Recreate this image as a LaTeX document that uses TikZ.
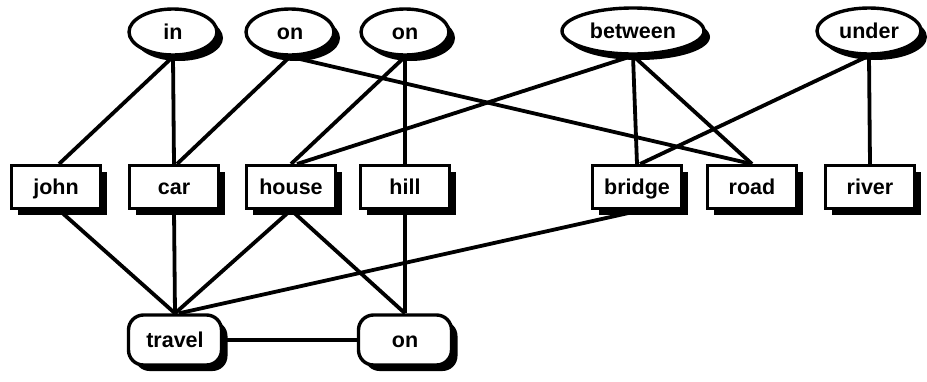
\documentclass[tikz,border=0pt]{standalone}
\usepackage{fontspec}
\setmainfont{Liberation Sans}
\usetikzlibrary{shapes.geometric,shadows,backgrounds}
\begin{document}
\begin{tikzpicture}[x=1pt,y=-1pt,
  shd/.style={drop shadow={shadow xshift=6pt,shadow yshift=-6pt,fill=black,opacity=1}},
  txt/.style={font=\bfseries\fontsize{21.5}{21.5}\selectfont,text height=15pt,text depth=0pt},
  rel/.style={ellipse,draw,line width=3.4pt,fill=white,shd,minimum height=46pt,inner sep=0pt,txt},
  con/.style={rectangle,draw,line width=3pt,fill=white,shd,minimum width=89pt,minimum height=43pt,inner sep=0pt,txt},
  act/.style={rectangle,rounded corners=15pt,draw,line width=3.4pt,fill=white,shd,minimum width=93pt,minimum height=50pt,inner sep=0pt,txt},
  edge/.style={line width=3.8pt}]
\useasboundingbox (0,0) rectangle (927,381);
\node[rel,minimum width=88pt] (in) at (173,32) {in};
\node[rel,minimum width=88pt] (on1) at (290,32) {on};
\node[rel,minimum width=88pt] (on2) at (405,32) {on};
\node[rel,minimum width=142pt] (betw) at (633,31) {between};
\node[rel,minimum width=104pt] (under) at (869,31) {under};
\node[con] (john) at (56,187) {john};
\node[con] (car) at (174,187) {car};
\node[con] (house) at (291,187) {house};
\node[con] (hill) at (405,187) {hill};
\node[con] (bridge) at (637,187) {bridge};
\node[con] (road) at (752,187) {road};
\node[con] (river) at (870,187) {river};
\node[act] (travel) at (175,340) {travel};
\node[act] (on3) at (405,340) {on};
\begin{scope}[on background layer]
\draw[edge] (in.south) -- ([xshift=3pt]john.north);
\draw[edge] (in.south) -- (car.north);
\draw[edge] (on1.south) -- ([xshift=3pt]car.north);
\draw[edge] (on1.south) -- (road.north);
\draw[edge] (on2.south) -- (house.north);
\draw[edge] (on2.south) -- (hill.north);
\draw[edge] (betw.south) -- ([xshift=6pt]house.north);
\draw[edge] (betw.south) -- (bridge.north);
\draw[edge] (betw.south) -- (road.north);
\draw[edge] (under.south) -- ([xshift=3pt]bridge.north);
\draw[edge] (under.south) -- (river.north);
\draw[edge] ([xshift=3pt]john.south) -- (travel.north);
\draw[edge] (car.south) -- (travel.north);
\draw[edge] (house.south) -- (travel.north);
\draw[edge] (house.south) -- (on3.north);
\draw[edge] (hill.south) -- (on3.north);
\draw[edge] ([xshift=5pt]bridge.south) -- ([xshift=4pt]travel.north);
\draw[edge] (travel.east) -- (on3.west);
\end{scope}
\end{tikzpicture}
\end{document}
